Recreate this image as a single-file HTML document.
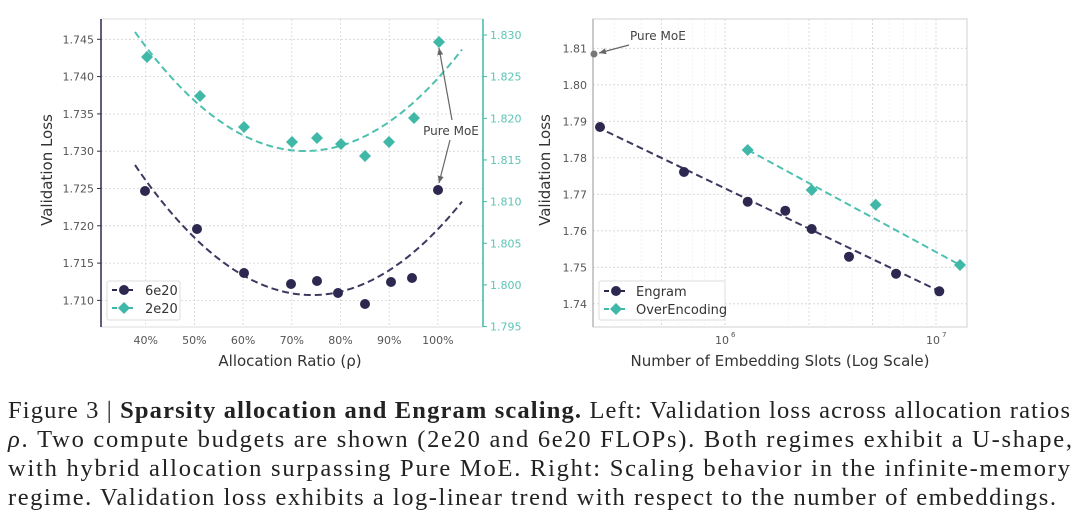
<!DOCTYPE html>
<html><head><meta charset="utf-8"><style>
html,body{margin:0;padding:0;background:#fff;}
svg{display:block;}
.t{font-family:"DejaVu Sans","Liberation Sans",sans-serif;font-size:11px;fill:#555;}
.tr{font-family:"DejaVu Sans","Liberation Sans",sans-serif;font-size:11px;fill:#5cc4b6;}
.lab{font-family:"DejaVu Sans","Liberation Sans",sans-serif;font-size:15px;fill:#333;}
.cap{font-family:"Liberation Serif",serif;font-size:24.5px;fill:#222;}
.g{stroke:#d4d4d4;stroke-width:0.8;stroke-dasharray:2,2;}
.gm{stroke:#ececec;stroke-width:0.6;stroke-dasharray:2,2;}
</style></head><body>
<svg id="s" width="1080" height="532" viewBox="0 0 1080 532" xmlns="http://www.w3.org/2000/svg">
<defs>
<marker id="ar" markerWidth="8" markerHeight="8" refX="7" refY="4" orient="auto" markerUnits="userSpaceOnUse"><path d="M0,1 L7,4 L0,7 z" fill="#666"/></marker>
</defs>
<g id="L"></g>
<g id="R"></g>
<text class="cap" x="8" y="418" textLength="1062" lengthAdjust="spacing">Figure 3 | <tspan font-weight="bold">Sparsity allocation and Engram scaling.</tspan> Left: Validation loss across allocation ratios</text>
<text class="cap" x="8" y="447" textLength="1064" lengthAdjust="spacing"><tspan font-style="italic">ρ</tspan>. Two compute budgets are shown (2e20 and 6e20 FLOPs). Both regimes exhibit a U-shape,</text>
<text class="cap" x="8" y="476" textLength="1062" lengthAdjust="spacing">with hybrid allocation surpassing Pure MoE. Right: Scaling behavior in the infinite-memory</text>
<text class="cap" x="8" y="505" textLength="1048" lengthAdjust="spacing">regime. Validation loss exhibits a log-linear trend with respect to the number of embeddings.</text>
</svg>
<script>
var NS="http://www.w3.org/2000/svg";
function el(p,tag,a,txt){var e=document.createElementNS(NS,tag);for(var k in a)e.setAttribute(k,a[k]);if(txt!==undefined)e.textContent=txt;p.appendChild(e);return e;}
var DARK="#2d2850",TEAL="#3fb8a8";
function diamond(p,x,y,c){el(p,"path",{d:"M"+x+","+(y-6)+"L"+(x+6)+","+y+"L"+x+","+(y+6)+"L"+(x-6)+","+y+"Z",fill:c});}
function dot(p,x,y,c){el(p,"circle",{cx:x,cy:y,r:5,fill:c});}
var L=document.getElementById("L");
var x0=101,x1=483,y0=19,y1=327;
function xL(p){return 145.7+(p-40)*4.87;}
function yL(v){return 39.3+(1.745-v)/0.005*37.3;}
function yR(v){return 35+(1.830-v)/0.005*41.65;}
[40,50,60,70,80,90,100].forEach(function(p){var x=xL(p);el(L,"line",{x1:x,y1:y0,x2:x,y2:y1,"class":"g"});el(L,"text",{x:x,y:344,"class":"t","text-anchor":"middle"},p+"%");});
[1.745,1.740,1.735,1.730,1.725,1.720,1.715,1.710].forEach(function(v){var y=yL(v);el(L,"line",{x1:x0,y1:y,x2:x1,y2:y,"class":"g"});el(L,"line",{x1:x0-4,y1:y,x2:x0,y2:y,stroke:"#333","stroke-width":1});el(L,"text",{x:x0-7,y:y+4,"class":"t","text-anchor":"end"},v.toFixed(3));});
[1.830,1.825,1.820,1.815,1.810,1.805,1.800,1.795].forEach(function(v){var y=yR(v);el(L,"line",{x1:x1,y1:y,x2:x1+4,y2:y,stroke:TEAL,"stroke-width":1});el(L,"text",{x:x1+7,y:y+4,"class":"tr"},v.toFixed(3));});
el(L,"rect",{x:x0,y:y0,width:x1-x0,height:y1-y0,fill:"none",stroke:"#ddd","stroke-width":1});
el(L,"line",{x1:x0,y1:y0,x2:x0,y2:y1,stroke:DARK,"stroke-width":1.5});
el(L,"line",{x1:x1,y1:y0,x2:x1,y2:y1,stroke:TEAL,"stroke-width":1.5});
function pth(h,k,a,xa,xb){var d="";for(var x=xa;x<=xb+0.01;x+=3){var y=k-a*(x-h)*(x-h);d+=(d?"L":"M")+x.toFixed(1)+","+y.toFixed(1);}return d;}
el(L,"path",{d:pth(312,295,130/(177*177),135,462),fill:"none",stroke:"#3d3860","stroke-width":2,"stroke-dasharray":"7,4"});
el(L,"path",{d:pth(305,151,119/(170*170),135,462),fill:"none",stroke:"#4fc0b0","stroke-width":2,"stroke-dasharray":"7,4"});
[[145,191],[197,229],[244,273],[291,284],[317,281],[338,293],[365,304],[391,282],[412,278],[438,190]].forEach(function(p){dot(L,p[0],p[1],DARK);});
[[147,57],[200,96],[244,127],[292,142],[317,138],[341,144],[365,156],[389,142],[414,118],[439,42]].forEach(function(p){diamond(L,p[0],p[1],TEAL);});
el(L,"line",{x1:452,y1:120,x2:439,y2:48,stroke:"#666","stroke-width":1.2,"marker-end":"url(#ar)"});
el(L,"line",{x1:450,y1:140,x2:439,y2:183,stroke:"#666","stroke-width":1.2,"marker-end":"url(#ar)"});
el(L,"text",{x:451,y:135,"class":"t","text-anchor":"middle",style:"font-size:12px;fill:#444"},"Pure MoE");
el(L,"rect",{x:107,y:281,width:73,height:39,fill:"#fff",stroke:"#ddd","stroke-width":1,rx:2});
el(L,"line",{x1:112,y1:290,x2:136,y2:290,stroke:DARK,"stroke-width":2,"stroke-dasharray":"5,3"});dot(L,124,290,DARK);
el(L,"text",{x:145,y:295,"class":"t",style:"font-size:13px;fill:#333"},"6e20");
el(L,"line",{x1:112,y1:308,x2:136,y2:308,stroke:TEAL,"stroke-width":2,"stroke-dasharray":"5,3"});diamond(L,124,308,TEAL);
el(L,"text",{x:145,y:313,"class":"t",style:"font-size:13px;fill:#333"},"2e20");
el(L,"text",{x:290,y:366,"class":"lab","text-anchor":"middle"},"Allocation Ratio (ρ)");
el(L,"text",{x:52,y:170,"class":"lab","text-anchor":"middle",transform:"rotate(-90 52 170)"},"Validation Loss");
el(L,"text",{x:550,y:170,"class":"lab","text-anchor":"middle",transform:"rotate(-90 550 170)"},"Validation Loss");
var R=document.getElementById("R");
var a0=593,a1=967;
function xR(n){return 725+211*Math.log10(n/1e6);}
function yr(v){return 48.3+(1.81-v)/0.01*36.5;}
for(var e=5;e<=7;e++){for(var m=1;m<10;m++){var n=m*Math.pow(10,e);var x=xR(n);if(x>a0&&x<a1)el(R,"line",{x1:x,y1:y0,x2:x,y2:y1,"class":"gm"});}}
[5e5,1e6,2.5e6,5e6,1e7].forEach(function(n){var x=xR(n);el(R,"line",{x1:x,y1:y0,x2:x,y2:y1,"class":"g"});});
[1.81,1.80,1.79,1.78,1.77,1.76,1.75,1.74].forEach(function(v){var y=yr(v);el(R,"line",{x1:a0,y1:y,x2:a1,y2:y,"class":"g"});el(R,"text",{x:a0-6,y:y+4,"class":"t","text-anchor":"end"},v.toFixed(2));});
el(R,"text",{x:722,y:344,"class":"t","text-anchor":"middle"},"10");el(R,"text",{x:731,y:337,"class":"t",style:"font-size:7px"},"6");
el(R,"text",{x:933,y:344,"class":"t","text-anchor":"middle"},"10");el(R,"text",{x:942,y:337,"class":"t",style:"font-size:7px"},"7");
el(R,"rect",{x:a0,y:y0,width:a1-a0,height:y1-y0,fill:"none",stroke:"#d8d8d8","stroke-width":1.2});
el(R,"line",{x1:a0,y1:y0,x2:a0,y2:y1,stroke:"#bbb","stroke-width":1.5});
el(R,"line",{x1:597,y1:127,x2:939,y2:291,stroke:"#3d3860","stroke-width":2,"stroke-dasharray":"7,4"});
el(R,"line",{x1:748,y1:150,x2:960,y2:265,stroke:"#4fc0b0","stroke-width":2,"stroke-dasharray":"7,4"});
[[600,127],[684,172],[747.7,201.7],[785.3,210.7],[811.7,229],[849,256.7],[896,273.7],[939.3,291.3]].forEach(function(p){dot(R,p[0],p[1],DARK);});
[[747.7,150],[811.7,190],[875.7,204.7],[960,265]].forEach(function(p){diamond(R,p[0],p[1],TEAL);});
el(R,"circle",{cx:594,cy:54,r:3.5,fill:"#777"});
el(R,"line",{x1:629,y1:45,x2:599,y2:53,stroke:"#666","stroke-width":1.2,"marker-end":"url(#ar)"});
el(R,"text",{x:630,y:40,"class":"t",style:"font-size:12px;fill:#444"},"Pure MoE");
el(R,"rect",{x:599,y:281,width:126,height:39,fill:"#fff",stroke:"#ddd","stroke-width":1,rx:2});
el(R,"line",{x1:604,y1:291,x2:628,y2:291,stroke:DARK,"stroke-width":2,"stroke-dasharray":"5,3"});dot(R,616,291,DARK);
el(R,"text",{x:636,y:296,"class":"t",style:"font-size:13px;fill:#333"},"Engram");
el(R,"line",{x1:604,y1:309,x2:628,y2:309,stroke:TEAL,"stroke-width":2,"stroke-dasharray":"5,3"});diamond(R,616,309,TEAL);
el(R,"text",{x:636,y:314,"class":"t",style:"font-size:13px;fill:#333"},"OverEncoding");
el(R,"text",{x:780,y:366,"class":"lab","text-anchor":"middle"},"Number of Embedding Slots (Log Scale)");
</script>
</body></html>
